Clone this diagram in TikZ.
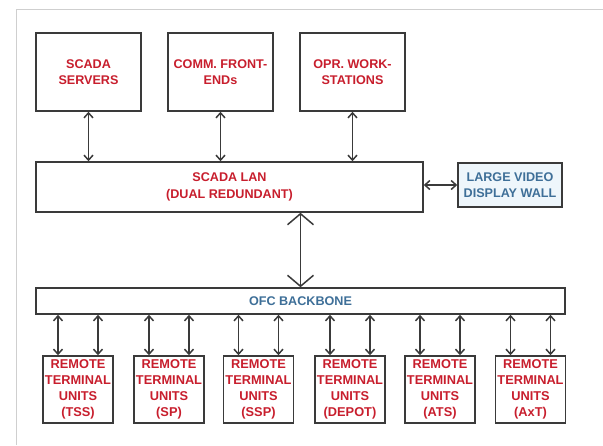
\documentclass[tikz,border=0pt]{standalone}
\usepackage{fontspec}
\setmainfont{Liberation Sans}
\usetikzlibrary{arrows.meta,positioning}
\definecolor{scadared}{HTML}{C81E2D}
\definecolor{scadablue}{HTML}{3E6F98}
\definecolor{boxline}{HTML}{3A3A3A}
\definecolor{framegray}{HTML}{CFCFCF}
\definecolor{wallfill}{HTML}{EEF6FB}

\begin{document}
\begin{tikzpicture}[x=1pt, y=-1pt, >={Straight Barb[length=5pt,width=9pt]},
  blockbox/.style={draw=boxline, line width=1.5pt, fill=white, inner sep=0pt, align=center,
    font=\fontsize{12.6}{16.5}\selectfont\bfseries, text=scadared},
  rtubox/.style={blockbox, minimum width=70, minimum height=67, font=\fontsize{12.8}{16.2}\selectfont\bfseries},
  link/.style={<->, line width=1.5pt, draw=boxline}]
  \useasboundingbox (0,0) rectangle (603,445);

  % Screen frame
  \draw[framegray, line width=1pt] (16,445) -- (16,9) -- (603,9);

  % Control centre
  \node[blockbox, minimum width=105, minimum height=78] (srv) at (88.5,72) {SCADA\\SERVERS};
  \node[blockbox, minimum width=105, minimum height=78] (fe) at (220.5,72) {COMM. FRONT-\\ENDs};
  \node[blockbox, minimum width=105, minimum height=78] (ws) at (352.5,72) {OPR. WORK-\\STATIONS};
  \node[blockbox, minimum width=387, minimum height=50] (lan) at (229.5,187) {SCADA LAN\\(DUAL REDUNDANT)};
  \node[blockbox, minimum width=104, minimum height=44, fill=wallfill, text=scadablue] (vdw) at (510,185) {LARGE VIDEO\\DISPLAY WALL};

  % Backbone
  \node[blockbox, minimum width=529, minimum height=26, text=scadablue] (ofc) at (300.5,301) {OFC BACKBONE};

  % Remote terminal units
  \node[rtubox] (tss) at (78,389.5) {REMOTE\\TERMINAL\\UNITS\\(TSS)};
  \node[rtubox] (sp) at (169,389.5) {REMOTE\\TERMINAL\\UNITS\\(SP)};
  \node[rtubox] (ssp) at (258.5,389.5) {REMOTE\\TERMINAL\\UNITS\\(SSP)};
  \node[rtubox] (depot) at (350,389.5) {REMOTE\\TERMINAL\\UNITS\\(DEPOT)};
  \node[rtubox] (ats) at (440,389.5) {REMOTE\\TERMINAL\\UNITS\\(ATS)};
  \node[rtubox] (axt) at (530.5,389.5) {REMOTE\\TERMINAL\\UNITS\\(AxT)};

  % LAN links
  \draw[link] (srv) -- (srv |- lan.north);
  \draw[link] (fe) -- (fe |- lan.north);
  \draw[link] (ws) -- (ws |- lan.north);
  \draw[link] (lan.east |- vdw) -- (vdw);
  \draw[link, arrows={Straight Barb[length=11pt,width=26pt]-Straight Barb[length=11pt,width=26pt]}] (ofc.north |- lan.south) -- (ofc.north);

  % RTU links
  \foreach \r in {tss,sp,ssp,depot,ats,axt} {
    \draw[link] ([xshift=-20pt]\r.north |- ofc.south) -- ([xshift=-20pt]\r.north);
    \draw[link] ([xshift=20pt]\r.north |- ofc.south) -- ([xshift=20pt]\r.north);
  }
\end{tikzpicture}
\end{document}
